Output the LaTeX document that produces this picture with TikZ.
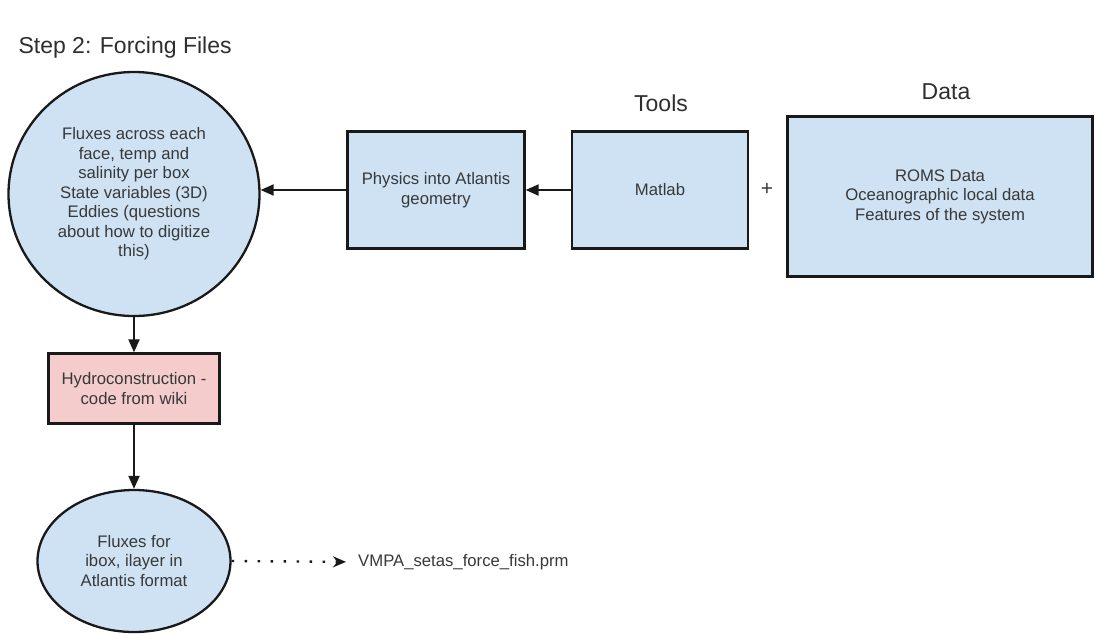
\documentclass[tikz,border=0pt]{standalone}
\usepackage{fontspec}
\setmainfont{Liberation Sans}
\usetikzlibrary{shapes.geometric,arrows.meta}
\definecolor{paleblue}{HTML}{CFE2F3}
\definecolor{palepink}{HTML}{F4CCCC}
\begin{document}
\begin{tikzpicture}[x=1pt,y=-1pt,
  every node/.style={font=\fontsize{16.7}{19.5}\selectfont,text=black!78,align=center},
  box/.style={draw=black!90,line width=2.3pt,fill=paleblue},
  blob/.style={ellipse,draw=black!90,line width=2.3pt,fill=paleblue,inner sep=0pt},
  head/.style={font=\fontsize{23}{27}\selectfont,text=black!82},
  arr/.style={line width=2pt,draw=black!90,-{Triangle[length=13pt,width=11pt]}},
  ]
\useasboundingbox (0,0) rectangle (1095,633);
\node[head,anchor=west] (title) at (15,48) {Step 2: Forcing Files};
\node[blob,minimum width=251pt,minimum height=244pt] (flux) at (134,194)
  {Fluxes across each\\face, temp and\\salinity per box\\State variables (3D)\\Eddies (questions\\about how to digitize\\this)};
\node[box,minimum width=177pt,minimum height=117pt] (physics) at (436,190) {Physics into Atlantis\\geometry};
\node[box,minimum width=176pt,minimum height=117pt] (matlab) at (660,190) {Matlab};
\node[font=\fontsize{21}{24}\selectfont] (plus) at (767,189) {+};
\node[box,minimum width=305pt,minimum height=160pt] (data) at (940,196.5)
  {ROMS Data\\Oceanographic local data\\Features of the system};
\node[head] (tools) at (661,103) {Tools};
\node[head] (datalbl) at (946,92) {Data};
\node[box,fill=palepink,minimum width=171pt,minimum height=70pt] (hydro) at (134,388.5)
  {Hydroconstruction -\\code from wiki};
\node[blob,minimum width=193pt,minimum height=142pt] (fmt) at (134,561)
  {Fluxes for\\ibox, ilayer in\\Atlantis format};
\node[anchor=west,inner sep=0pt] (vmpa) at (358,562) {VMPA\_setas\_force\_fish.prm};

\draw[arr] (matlab) -- (physics);
\draw[arr] (physics) -- (physics -| flux.east);
\draw[arr] (flux) -- (hydro);
\draw[arr] (hydro) -- (fmt);
\draw[line width=2.4pt,draw=black!90,dash pattern=on 2.4pt off 10.6pt,-{Stealth[length=13pt,width=11pt]},shorten >=12pt] (fmt.east) -- (vmpa.west);
\end{tikzpicture}
\end{document}
